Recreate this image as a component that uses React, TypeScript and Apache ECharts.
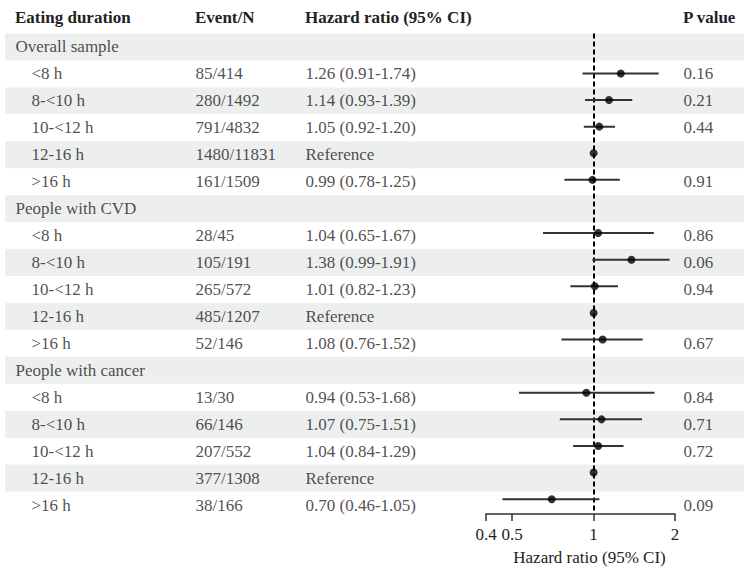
import React, { useEffect, useRef } from 'react';
import * as echarts from 'echarts';

const headers = ['Eating duration', 'Event/N', 'Hazard ratio (95% CI)', 'P value'];
const rowLabels = [
  'Overall sample', '<8 h', '8-<10 h', '10-<12 h', '12-16 h', '>16 h',
  'People with CVD', '<8 h', '8-<10 h', '10-<12 h', '12-16 h', '>16 h',
  'People with cancer', '<8 h', '8-<10 h', '10-<12 h', '12-16 h', '>16 h',
];
const isGroup = [
  true, false, false, false, false, false,
  true, false, false, false, false, false,
  true, false, false, false, false, false,
];
const eventN = [
  '', '85/414', '280/1492', '791/4832', '1480/11831', '161/1509',
  '', '28/45', '105/191', '265/572', '485/1207', '52/146',
  '', '13/30', '66/146', '207/552', '377/1308', '38/166',
];
const hrText = [
  '', '1.26 (0.91-1.74)', '1.14 (0.93-1.39)', '1.05 (0.92-1.20)', 'Reference', '0.99 (0.78-1.25)',
  '', '1.04 (0.65-1.67)', '1.38 (0.99-1.91)', '1.01 (0.82-1.23)', 'Reference', '1.08 (0.76-1.52)',
  '', '0.94 (0.53-1.68)', '1.07 (0.75-1.51)', '1.04 (0.84-1.29)', 'Reference', '0.70 (0.46-1.05)',
];
const hrPoint = [
  null, 1.26, 1.14, 1.05, 1, 0.99,
  null, 1.04, 1.38, 1.01, 1, 1.08,
  null, 0.94, 1.07, 1.04, 1, 0.70,
];
const ciLower = [
  null, 0.91, 0.93, 0.92, null, 0.78,
  null, 0.65, 0.99, 0.82, null, 0.76,
  null, 0.53, 0.75, 0.84, null, 0.46,
];
const ciUpper = [
  null, 1.74, 1.39, 1.20, null, 1.25,
  null, 1.67, 1.91, 1.23, null, 1.52,
  null, 1.68, 1.51, 1.29, null, 1.05,
];
const pValues = [
  '', '0.16', '0.21', '0.44', '', '0.91',
  '', '0.86', '0.06', '0.94', '', '0.67',
  '', '0.84', '0.71', '0.72', '', '0.09',
];
const axisTickValues = [0.4, 0.5, 1, 2];
const axisTitle = 'Hazard ratio (95% CI)';

const FONT = "'Liberation Serif', 'Times New Roman', serif";
const TEXT_COLOR = '#222';
const BAND_COLOR = '#edefef';
const GRID_TOP = 33.5;
const GRID_HEIGHT = 485;

export default function App() {
  const ref = useRef<HTMLDivElement>(null);

  useEffect(() => {
    if (!ref.current) return;
    const chart = echarts.init(ref.current, undefined, { renderer: 'svg' });
    const rowIds = rowLabels.map((_, i) => String(i));

    const textSeries = (xPos: (i: number) => number, texts: string[], bold = false) => ({
      type: 'scatter',
      xAxisIndex: 0,
      yAxisIndex: 0,
      silent: true,
      symbol: 'circle',
      symbolSize: 1,
      itemStyle: { color: 'rgba(0,0,0,0)' },
      z: 5,
      data: texts
        .map((t, i) => ({ t, i }))
        .filter((d) => d.t !== '')
        .map((d) => ({ value: [xPos(d.i), d.i], name: d.t })),
      label: {
        show: true,
        position: 'right',
        distance: 0,
        formatter: (p: any) => p.name,
        fontFamily: FONT,
        fontSize: 17,
        fontWeight: bold ? 'bold' : 'normal',
        color: TEXT_COLOR,
      },
    });

    const ciData = hrPoint
      .map((_, i) => i)
      .filter((i) => ciLower[i] != null && ciUpper[i] != null)
      .map((i) => [ciLower[i], ciUpper[i], i]);
    const pointData = hrPoint
      .map((v, i) => ({ v, i }))
      .filter((d) => d.v != null)
      .map((d) => [d.v, d.i]);

    const option: any = {
      animation: false,
      backgroundColor: '#ffffff',
      grid: [
        { left: 5, right: 0, top: GRID_TOP, height: GRID_HEIGHT },
        { left: 486, width: 189, top: GRID_TOP, height: GRID_HEIGHT },
      ],
      xAxis: [
        { type: 'value', gridIndex: 0, min: 5, max: 744, show: false },
        {
          type: 'log',
          gridIndex: 1,
          logBase: 10,
          min: 0.4,
          max: 2,
          offset: 1.5,
          splitLine: { show: false },
          axisLine: { show: true, onZero: false, lineStyle: { color: '#333', width: 1.5 } },
          axisTick: { show: true, length: 7, customValues: axisTickValues, lineStyle: { color: '#333', width: 1.5 } },
          axisLabel: {
            show: true,
            customValues: axisTickValues,
            margin: 12,
            fontFamily: FONT,
            fontSize: 17,
            color: TEXT_COLOR,
            formatter: (v: number) => String(Number(Number(v).toPrecision(2))),
          },
          name: axisTitle,
          nameLocation: 'middle',
          nameGap: 35,
          nameTextStyle: { fontFamily: FONT, fontSize: 17, color: TEXT_COLOR, padding: [0, 0, 0, 18] },
        },
      ],
      yAxis: [
        { type: 'category', gridIndex: 0, data: rowIds, inverse: true, show: false },
        { type: 'category', gridIndex: 1, data: rowIds, inverse: true, show: false },
      ],
      graphic: [15, 195, 305, 683].map((x, k) => ({
        type: 'text',
        x,
        y: 17,
        silent: true,
        style: {
          text: headers[k],
          fontFamily: FONT,
          fontSize: 17,
          fontWeight: 'bold',
          fill: TEXT_COLOR,
          verticalAlign: 'middle',
          align: 'left',
        },
      })),
      series: [
        {
          type: 'bar',
          xAxisIndex: 0,
          yAxisIndex: 0,
          silent: true,
          barWidth: '100%',
          barGap: '0%',
          barCategoryGap: '0%',
          z: 1,
          data: rowIds.map((_, i) => ({
            value: 744,
            itemStyle: { color: i % 2 === 0 ? BAND_COLOR : 'rgba(255,255,255,0)' },
          })),
        },
        textSeries((i) => (isGroup[i] ? 15 : 31), rowLabels),
        textSeries(() => 195, eventN),
        textSeries(() => 305, hrText),
        textSeries(() => 683, pValues),
        {
          type: 'custom',
          xAxisIndex: 1,
          yAxisIndex: 1,
          silent: true,
          z: 6,
          encode: { x: [0, 1], y: 2 },
          data: ciData,
          renderItem: (params: any, api: any) => {
            const p1 = api.coord([api.value(0), api.value(2)]);
            const p2 = api.coord([api.value(1), api.value(2)]);
            return {
              type: 'line',
              shape: { x1: p1[0], y1: p1[1], x2: p2[0], y2: p2[1] },
              style: { stroke: '#333', lineWidth: 2 },
            };
          },
        },
        {
          type: 'scatter',
          xAxisIndex: 1,
          yAxisIndex: 1,
          silent: true,
          symbol: 'circle',
          symbolSize: 8,
          z: 8,
          itemStyle: { color: '#000' },
          data: pointData,
          markLine: {
            silent: true,
            symbol: ['none', 'none'],
            label: { show: false },
            lineStyle: { color: '#000', width: 2, type: [5, 3] },
            data: [{ xAxis: 1 }],
          },
        },
      ],
    };
    chart.setOption(option);
    return () => chart.dispose();
  }, []);

  return (
    <div
      ref={ref}
      style={{ position: 'fixed', left: 0, top: 0, width: 744, height: 571, background: '#fff' }}
    />
  );
}
